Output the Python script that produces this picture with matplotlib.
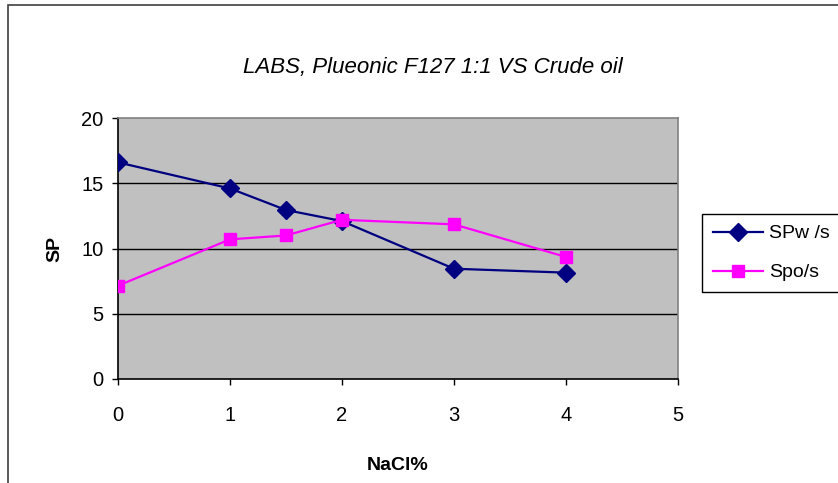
import matplotlib
matplotlib.use("Agg")
import matplotlib.pyplot as plt
from matplotlib.patches import Rectangle

plt.rcParams['font.family'] = ['Liberation Sans', 'DejaVu Sans']

nacl = [0, 1, 1.5, 2, 3, 4]
spw = [16.6, 14.6, 12.95, 12.1, 8.45, 8.15]
spo = [7.15, 10.7, 11.0, 12.2, 11.85, 9.35]

fig = plt.figure(figsize=(8.38, 4.83), dpi=100)
ax = fig.add_axes([118/838, 1 - 379/483, 560/838, 261/483])
ax.set_facecolor('#C0C0C0')

# outer chart frame (only left/top visible in the original)
fig.patches.append(Rectangle((8/838, -0.1), 1.2, 1.1 - 5/483, transform=fig.transFigure,
                             fill=False, edgecolor='#404040', lw=1.2, zorder=0))

ax.plot(nacl, spw, color='#000080', marker='D', markersize=9, lw=1.6, label='SPw /s', zorder=3)
ax.plot(nacl, spo, color='#FF00FF', marker='s', markersize=9, lw=1.6, label='Spo/s', zorder=3)

ax.set_xlim(0, 5)
ax.set_ylim(0, 20)
ax.set_xticks(range(0, 6))
ax.set_yticks(range(0, 21, 5))
for y in [5, 10, 15]:
    ax.axhline(y, color='black', lw=1, zorder=1)

ax.tick_params(direction='out', length=4.5, width=1, labelsize=14.5, color='black')
ax.tick_params(axis='y', pad=6)
ax.tick_params(axis='x', pad=15)
ax.spines['left'].set_color('black')
ax.spines['bottom'].set_color('black')
ax.spines['top'].set_color('#808080')
ax.spines['right'].set_color('#808080')
for s in ax.spines.values():
    s.set_linewidth(1.2)

ax.set_xlabel('NaCl%', fontsize=14, fontweight='bold', labelpad=23)
ax.set_ylabel('SP', fontsize=14, fontweight='bold', labelpad=13)
fig.text(433/838, 1 - 68/483, 'LABS, Plueonic F127 1:1 VS Crude oil', fontsize=16,
         style='italic', ha='center', va='center')

leg = ax.legend(loc='center left', bbox_to_anchor=(702/838, 1 - 253/483),
                bbox_transform=fig.transFigure, fontsize=14, frameon=True,
                fancybox=False, edgecolor='black', framealpha=1, borderpad=0.55,
                borderaxespad=0, handlelength=2.6, labelspacing=1.1, handletextpad=0.3)
leg.get_frame().set_linewidth(1)

fig.savefig('out.png', dpi=100)
